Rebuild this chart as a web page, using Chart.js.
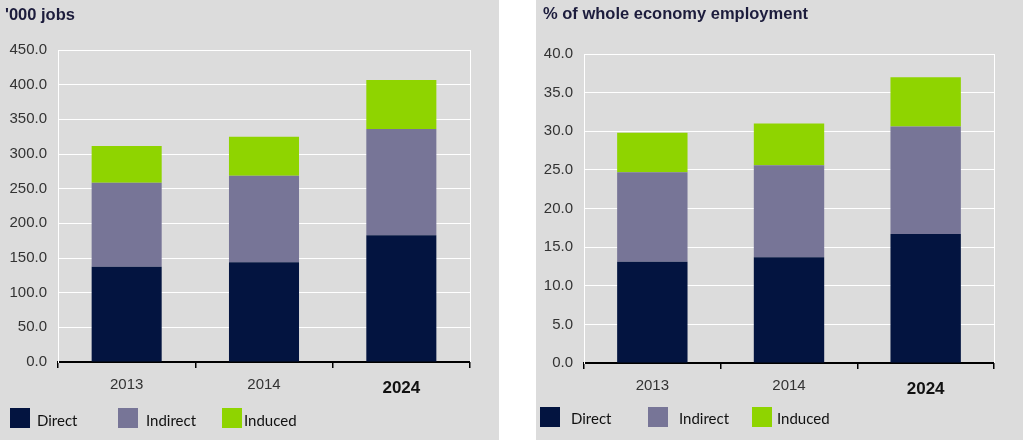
<!DOCTYPE html>
<html>
<head>
<meta charset="utf-8">
<script src="https://cdn.jsdelivr.net/npm/chart.js@4.4.1/dist/chart.umd.min.js"></script>
<style>
  body { margin: 0; width: 1023px; height: 440px; background: #fff; position: relative; overflow: hidden; font-family: "Liberation Sans", Arial, sans-serif; }
  .panel { position: absolute; top: 0; height: 440px; background: #dcdcdc; }
  #left { left: 0; width: 499px; }
  #right { left: 536px; width: 487px; }
  .panel canvas { position: absolute; left: 0; top: 0; }
  .title { position: absolute; font-weight: bold; font-size: 16.5px; color: #1c1c3c; white-space: nowrap; }
  .lg-box { position: absolute; width: 20px; height: 20px; }
  .lg-txt { position: absolute; font-family: Lato, sans-serif; font-size: 15px; color: #111; line-height: 20px; white-space: nowrap; }
</style>
</head>
<body>
<div class="panel" id="left">
  <canvas id="jobsChart" width="499" height="440" style="width:499px;height:440px"></canvas>
  <div class="title" style="left:5px;top:5px">'000 jobs</div>
</div>
<div class="panel" id="right">
  <canvas id="shareChart" width="487" height="440" style="width:487px;height:440px"></canvas>
  <div class="title" style="left:7px;top:4px">% of whole economy employment</div>
</div>
<script>
// data
const years = ['2013', '2014', '2024'];
const seriesNames = ['Direct', 'Indirect', 'Induced'];
const seriesColors = ['#031440', '#777597', '#8fd400'];

const jobsDirect = [137.5, 143.8, 182.7];
const jobsIndirect = [121.1, 124.9, 153.3];
const jobsInduced = [52.9, 56.3, 70.7];

const shareDirect = [13.1, 13.7, 16.7];
const shareIndirect = [11.6, 11.9, 13.9];
const shareInduced = [5.1, 5.4, 6.4];

// white line on the right edge of the plot
const rightEdge = {
    id: 'rightEdge',
    beforeDatasetsDraw(chart) {
        const a = chart.chartArea;
        const ctx = chart.ctx;
        ctx.save();
        ctx.strokeStyle = '#fff';
        ctx.lineWidth = 1;
        ctx.beginPath();
        ctx.moveTo(a.right + 0.5, a.top);
        ctx.lineTo(a.right + 0.5, a.bottom);
        ctx.stroke();
        ctx.restore();
    }
};

function makeChart(id, values, yMax, yStep, axisWidth, pad, barPct) {
    const datasets = values.map((d, i) => ({
        label: seriesNames[i],
        data: d,
        backgroundColor: seriesColors[i],
        borderWidth: 0,
        categoryPercentage: 1,
        barPercentage: barPct
    }));

    return new Chart(document.getElementById(id), {
        type: 'bar',
        data: { labels: years, datasets: datasets },
        plugins: [rightEdge],
        options: {
            responsive: false,
            animation: false,
            layout: { padding: pad },
            plugins: {
                legend: { display: false },
                tooltip: { enabled: false }
            },
            scales: {
                x: {
                    stacked: true,
                    afterFit: (s) => { s.height = 40; },
                    border: { color: '#000', width: 2 },
                    grid: { drawOnChartArea: false, drawTicks: true, tickLength: 6, color: '#000', lineWidth: 1.5 },
                    ticks: {
                        padding: 8,
                        color: (c) => c.index === 2 ? '#111' : '#333',
                        font: (c) => c.index === 2
                            ? { family: '"Liberation Sans", Arial', size: 17, weight: 'bold', lineHeight: 1.45 }
                            : { family: '"Liberation Sans", Arial', size: 15, lineHeight: 1.2 }
                    }
                },
                y: {
                    stacked: true,
                    min: 0,
                    max: yMax,
                    afterFit: (s) => { s.width = axisWidth; },
                    border: { color: '#fff', width: 1 },
                    grid: {
                        drawTicks: false,
                        lineWidth: 1,
                        color: (c) => c.tick && c.tick.value === 0 ? 'rgba(0,0,0,0)' : '#fff'
                    },
                    ticks: {
                        stepSize: yStep,
                        padding: 11,
                        color: '#333',
                        font: { family: '"Liberation Sans", Arial', size: 15 },
                        callback: (v) => v.toFixed(1)
                    }
                }
            }
        }
    });
}

function makeLegend(panelId, boxX, textX, boxTop, textTop) {
    const panel = document.getElementById(panelId);
    seriesNames.forEach((name, i) => {
        const box = document.createElement('div');
        box.className = 'lg-box';
        box.style.left = boxX[i] + 'px';
        box.style.top = boxTop + 'px';
        box.style.background = seriesColors[i];
        panel.appendChild(box);
        const txt = document.createElement('div');
        txt.className = 'lg-txt';
        txt.style.left = textX[i] + 'px';
        txt.style.top = textTop + 'px';
        txt.textContent = name;
        panel.appendChild(txt);
    });
}

makeChart('jobsChart', [jobsDirect, jobsIndirect, jobsInduced], 450, 50, 58,
    { top: 50, left: 0, right: 29, bottom: 38 }, 0.51);
makeChart('shareChart', [shareDirect, shareIndirect, shareInduced], 40, 5, 48,
    { top: 54, left: 0, right: 29, bottom: 37 }, 0.515);

makeLegend('left', [10, 118, 222], [37, 146, 244], 408, 410);
makeLegend('right', [4, 112, 216], [35, 143, 241], 407, 408);
</script>
</body>
</html>
